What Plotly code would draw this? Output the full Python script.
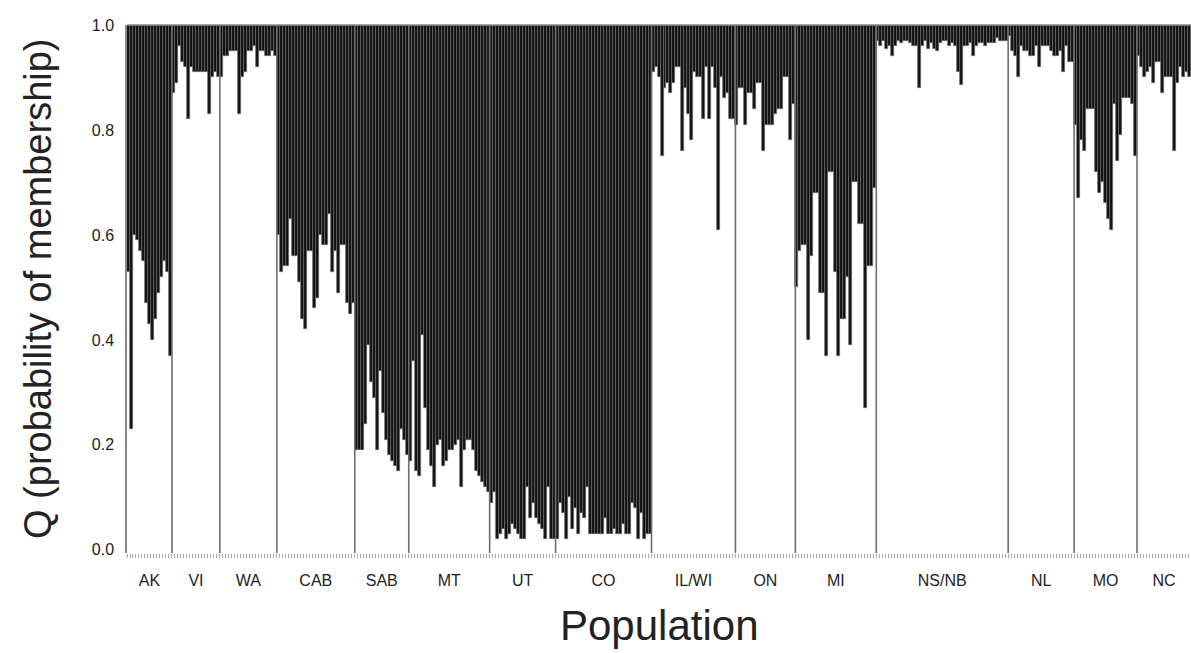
import plotly.graph_objects as go

populations = ["AK", "VI", "WA", "CAB", "SAB", "MT", "UT", "CO", "IL/WI", "ON", "MI", "NS/NB", "NL", "MO", "NC"]

q_AK = [0.53, 0.23, 0.60, 0.59, 0.57, 0.55, 0.47, 0.43, 0.40, 0.44, 0.49, 0.52, 0.55, 0.53, 0.37]
q_VI = [0.87, 0.89, 0.96, 0.93, 0.92, 0.82, 0.92, 0.91, 0.91, 0.91, 0.91, 0.91, 0.83, 0.90, 0.91, 0.90]
q_WA = [0.90, 0.94, 0.94, 0.95, 0.95, 0.95, 0.83, 0.90, 0.91, 0.95, 0.95, 0.96, 0.92, 0.95, 0.95, 0.94, 0.94, 0.95, 0.94]
q_CAB = [0.60, 0.53, 0.54, 0.54, 0.63, 0.56, 0.56, 0.51, 0.44, 0.42, 0.57, 0.57, 0.46, 0.48, 0.60, 0.58,
         0.58, 0.64, 0.53, 0.57, 0.49, 0.58, 0.58, 0.47, 0.45, 0.47]
q_SAB = [0.19, 0.19, 0.19, 0.24, 0.39, 0.32, 0.29, 0.19, 0.34, 0.26, 0.21, 0.18, 0.17, 0.16, 0.15, 0.23, 0.21, 0.18]
q_MT = [0.17, 0.36, 0.15, 0.14, 0.41, 0.27, 0.19, 0.16, 0.12, 0.20, 0.21, 0.16, 0.17, 0.19, 0.19, 0.20,
        0.21, 0.12, 0.19, 0.21, 0.21, 0.19, 0.15, 0.14, 0.13, 0.12, 0.11]
q_UT = [0.09, 0.11, 0.02, 0.03, 0.04, 0.02, 0.03, 0.05, 0.04, 0.03, 0.02, 0.02, 0.12, 0.06, 0.09, 0.06,
        0.05, 0.04, 0.02, 0.12, 0.02, 0.02]
q_CO = [0.02, 0.09, 0.07, 0.02, 0.10, 0.04, 0.08, 0.03, 0.07, 0.06, 0.12, 0.03, 0.03, 0.03, 0.03, 0.03,
        0.06, 0.03, 0.03, 0.04, 0.03, 0.03, 0.05, 0.03, 0.03, 0.09, 0.08, 0.02, 0.07, 0.02, 0.03, 0.03]
q_ILWI = [0.91, 0.92, 0.90, 0.75, 0.88, 0.89, 0.87, 0.89, 0.92, 0.92, 0.76, 0.88, 0.83, 0.78, 0.91, 0.90,
          0.90, 0.82, 0.92, 0.82, 0.92, 0.88, 0.61, 0.90, 0.86, 0.87, 0.82, 0.82]
q_ON = [0.81, 0.88, 0.88, 0.81, 0.87, 0.87, 0.84, 0.89, 0.89, 0.76, 0.81, 0.81, 0.81, 0.83, 0.84, 0.84,
        0.90, 0.90, 0.78, 0.85]
q_MI = [0.50, 0.57, 0.58, 0.58, 0.40, 0.56, 0.68, 0.68, 0.49, 0.49, 0.37, 0.72, 0.72, 0.53, 0.37, 0.44,
        0.44, 0.52, 0.39, 0.70, 0.70, 0.62, 0.62, 0.27, 0.54, 0.54, 0.69]
q_NSNB = [0.97, 0.96, 0.97, 0.955, 0.96, 0.94, 0.96, 0.97, 0.965, 0.97, 0.97, 0.965, 0.96, 0.96, 0.88,
          0.96, 0.97, 0.955, 0.965, 0.955, 0.95, 0.965, 0.97, 0.97, 0.96, 0.965, 0.96, 0.91, 0.885, 0.96,
          0.96, 0.965, 0.94, 0.96, 0.965, 0.965, 0.96, 0.965, 0.965, 0.965, 0.975, 0.97, 0.97, 0.97]
q_NL = [0.98, 0.95, 0.94, 0.90, 0.96, 0.95, 0.95, 0.94, 0.94, 0.96, 0.92, 0.96, 0.96, 0.96, 0.95, 0.94,
        0.94, 0.95, 0.91, 0.96, 0.93, 0.93]
q_MO = [0.81, 0.67, 0.78, 0.76, 0.84, 0.84, 0.84, 0.72, 0.68, 0.70, 0.66, 0.63, 0.61, 0.85, 0.74, 0.79,
        0.86, 0.86, 0.86, 0.85, 0.75]
q_NC = [0.94, 0.92, 0.90, 0.91, 0.92, 0.89, 0.93, 0.93, 0.87, 0.90, 0.90, 0.90, 0.76, 0.89, 0.92, 0.90,
        0.91, 0.90]

groups = [q_AK, q_VI, q_WA, q_CAB, q_SAB, q_MT, q_UT, q_CO, q_ILWI, q_ON, q_MI, q_NSNB, q_NL, q_MO, q_NC]

q_all = [v for g in groups for v in g]
idx = list(range(len(q_all)))
other = [1 - v for v in q_all]

# group boundaries and centres (in individual index units)
bounds = []
centers = []
start = 0
for g in groups:
    centers.append(start + (len(g) - 1) / 2)
    start += len(g)
    bounds.append(start - 0.5)

fig = go.Figure()
fig.add_trace(go.Bar(
    x=idx, y=other, base=q_all, width=1,
    marker=dict(color="#111111", line=dict(color="#6a6a6a", width=0.7)),
    showlegend=False, hoverinfo="skip"))

shapes = []
for b in bounds[:-1]:
    shapes.append(dict(type="line", xref="x", yref="paper", x0=b, x1=b, y0=0, y1=1,
                       line=dict(color="#6e6e6e", width=1.6), layer="above"))
shapes.append(dict(type="line", xref="paper", yref="paper", x0=0, x1=1, y0=1, y1=1,
                   line=dict(color="#888888", width=1.5)))

fig.update_layout(
    width=1191, height=653,
    margin=dict(l=127, r=0, t=25, b=100),
    paper_bgcolor="white", plot_bgcolor="white",
    bargap=0, barmode="overlay",
    shapes=shapes,
    font=dict(family="Liberation Sans, Arial, sans-serif", color="#222222"),
    xaxis=dict(range=[-0.5, len(q_all) - 0.5], tickmode="array", tickvals=centers,
               ticktext=populations, ticks="", showgrid=False, zeroline=False, showline=False,
               tickfont=dict(size=16, color="#222222"), ticklabelstandoff=16,
               minor=dict(ticks="outside", ticklen=4, tickwidth=1, tickcolor="#aaaaaa",
                          tickmode="linear", tick0=-0.5, dtick=1, showgrid=False)),
    yaxis=dict(range=[-0.006, 1.0], tickmode="array", tickvals=[0, 0.2, 0.4, 0.6, 0.8, 1.0],
               ticktext=["0.0", "0.2", "0.4", "0.6", "0.8", "1.0"], ticks="", showgrid=False,
               zeroline=False, showline=True, linecolor="#888888", linewidth=1.5,
               tickfont=dict(size=16, color="#222222"), ticklabelstandoff=8),
    annotations=[
        dict(text="Q (probability of membership)", xref="paper", yref="paper", x=0, y=0.5,
             xanchor="center", yanchor="middle", xshift=-89, textangle=-90, showarrow=False,
             font=dict(size=38, color="#222222")),
        dict(text="Population", xref="paper", yref="paper", x=0.5, y=0,
             xanchor="center", yanchor="middle", yshift=-72, showarrow=False,
             font=dict(size=42, color="#222222")),
    ],
)

fig.write_html("out.html", config={"displayModeBar": False},
               post_script="document.body.style.margin='0';document.body.style.overflow='hidden';")
